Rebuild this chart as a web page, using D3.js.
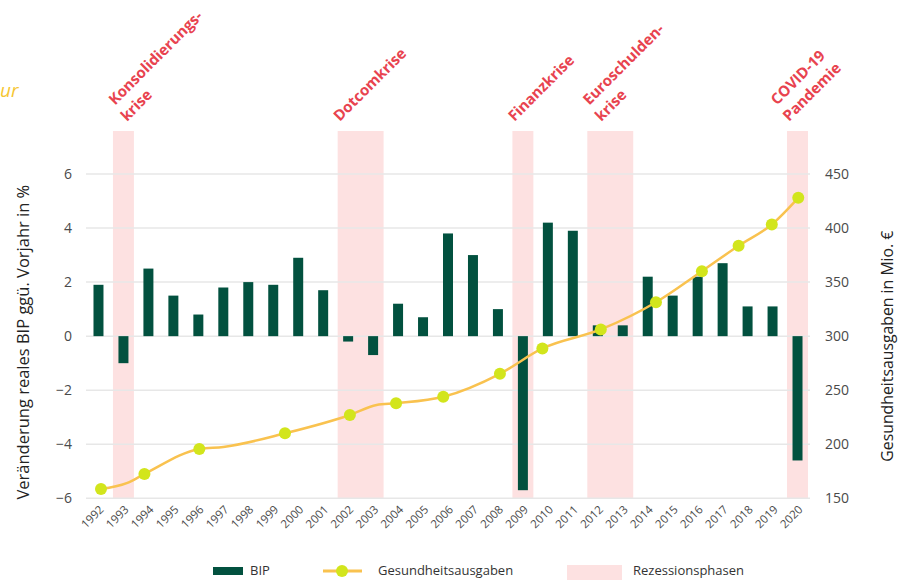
<!DOCTYPE html>
<html><head><meta charset="utf-8">
<script src="https://cdn.jsdelivr.net/npm/d3@7"></script>
<style>
html,body{margin:0;padding:0;background:#fff;}
svg{display:block;font-family:"Open Sans","Noto Sans",sans-serif;}
</style></head>
<body><svg id="c" width="902" height="580"></svg>
<script>
const years = ["1992","1993","1994","1995","1996","1997","1998","1999","2000","2001","2002","2003","2004","2005","2006","2007","2008","2009","2010","2011","2012","2013","2014","2015","2016","2017","2018","2019","2020"];
const bip = [1.9,-1.0,2.5,1.5,0.8,1.8,2.0,1.9,2.9,1.7,-0.2,-0.7,1.2,0.7,3.8,3.0,1.0,-5.7,4.2,3.9,0.4,0.4,2.2,1.5,2.2,2.7,1.1,1.1,-4.6];
// Gesundheitsausgaben: position on the year axis, value in Mio. €, marker shown
const healthPos = [1992.1,1993.13,1993.84,1996.04,1997.0,1999.47,2002.07,2003.14,2003.92,2005.81,2008.08,2009.78,2012.12,2014.33,2016.17,2017.64,2018.97,2020.03];
const healthVal = [158.6,164,172.5,195.6,197.5,210.1,227.1,236.3,237.9,243.9,265.2,288.6,306.2,331.4,360.1,383.6,403.3,428];
const healthMarked = [1,0,1,1,0,1,1,0,1,1,1,1,1,1,1,1,1,1];
const recessionStart = ["1993","2002","2009","2012","2020"];
const recessionEnd   = ["1993","2003","2009","2013","2020"];
const recessionLabels = [["Konsolidierungs-","krise"],["Dotcomkrise"],["Finanzkrise"],["Euroschulden-","krise"],["COVID-19","Pandemie"]];
const leftTicks = [-6,-4,-2,0,2,4,6];
const rightTicks = [150,200,250,300,350,400,450];
const legendLabels = ["BIP","Gesundheitsausgaben","Rezessionsphasen"];

const C = {bar:"#02513f", line:"#f9c24f", dot:"#d2e51c", band:"#fde1e1", red:"#e8434f", grid:"#e7e7e7", tick:"#4a4a4a", title:"#222"};
const svg = d3.select("#c");
const L = 86, R = 810, T = 174, B = 498.3;

const x = d3.scaleBand().domain(years).range([L, R]).paddingInner(0.6).paddingOuter(0.3);
const step = x.step();
const bandX = d => x(d) - x.paddingInner()*step/2; // start of full slot
const yL = d3.scaleLinear().domain([-6, 6]).range([B, T]);
const yR = d3.scaleLinear().domain([150, 450]).range([B, T]);
const xPos = d3.scaleLinear().domain([1992, 2020]).range([x("1992")+x.bandwidth()/2, x("2020")+x.bandwidth()/2]);

// yellow clipped title remnant
svg.append("text").attr("x", 0).attr("y", 97).attr("fill", "#f6c633").attr("font-style","italic")
  .attr("font-size", 19).text("ur");

// recession bands
recessionStart.forEach((s, i) => {
  const x0 = bandX(s) + 2, x1 = bandX(recessionEnd[i]) + step - 2;
  svg.append("rect").attr("x", x0).attr("y", 131).attr("width", x1 - x0).attr("height", B - 131).attr("fill", C.band);
  const lines = recessionLabels[i];
  const indent = (lines.length > 1 && lines[0].endsWith("-")) ? 12 : 0;
  const g = svg.append("g").attr("transform", `translate(${bandX(s) + 4 + indent},122) rotate(-45)`);
  const t = g.append("text").attr("fill", C.red).attr("font-weight", 700).attr("font-size", 15);
  lines.forEach((ln, j) => {
    t.append("tspan").attr("x", j === 0 && lines.length>1 ? 3 : 0).attr("y", (j - (lines.length - 1)) * 20).text(ln);
  });
});

// gridlines
svg.append("g").selectAll("line").data(leftTicks).join("line")
  .attr("x1", L).attr("x2", R).attr("y1", d => yL(d)).attr("y2", d => yL(d))
  .attr("stroke", C.grid).attr("stroke-width", 1.5);

// bars
svg.append("g").selectAll("rect").data(years).join("rect")
  .attr("x", d => x(d)).attr("width", x.bandwidth())
  .attr("y", (d, i) => yL(Math.max(0, bip[i])))
  .attr("height", (d, i) => Math.abs(yL(bip[i]) - yL(0)))
  .attr("fill", C.bar);

// health line
const pts = healthPos.map((p, i) => ({p, v: healthVal[i], m: healthMarked[i]}));
svg.append("path").datum(pts)
  .attr("d", d3.line().x(d => xPos(d.p)).y(d => yR(d.v)).curve(d3.curveMonotoneX))
  .attr("fill", "none").attr("stroke", C.line).attr("stroke-width", 2.5);
svg.append("g").selectAll("circle").data(pts.filter(d => d.m)).join("circle")
  .attr("cx", d => xPos(d.p)).attr("cy", d => yR(d.v)).attr("r", 6).attr("fill", C.dot);

// axes
const axL = svg.append("g").attr("transform", `translate(${L},0)`)
  .call(d3.axisLeft(yL).tickValues(leftTicks).tickSize(0).tickPadding(14));
const axR = svg.append("g").attr("transform", `translate(${R},0)`)
  .call(d3.axisRight(yR).tickValues(rightTicks).tickSize(0).tickPadding(15));
[axL, axR].forEach(a => {
  a.select(".domain").remove();
  a.selectAll("text").attr("font-size", 14).attr("fill", C.tick).attr("font-family", '"Open Sans","Noto Sans",sans-serif');
});
const axB = svg.append("g").attr("transform", `translate(0,${B})`)
  .call(d3.axisBottom(x).tickSize(0).tickPadding(0));
axB.select(".domain").remove();
axB.selectAll("text").attr("font-size", 11.5).attr("fill", C.tick).attr("font-family", '"Open Sans","Noto Sans",sans-serif')
  .attr("text-anchor", "end").attr("dy", null).attr("y", 0)
  .attr("transform", "translate(6,12) rotate(-45)");

// axis titles
svg.append("text").attr("transform", `translate(29,${(T+B)/2 + 6}) rotate(-90)`).attr("text-anchor", "middle")
  .attr("font-size", 16.5).attr("fill", C.title).attr("font-weight", 500).text("Veränderung reales BIP ggü. Vorjahr in %");
svg.append("text").attr("transform", `translate(893,${(T+B)/2 + 10}) rotate(-90)`).attr("text-anchor", "middle")
  .attr("font-size", 15.8).attr("fill", C.title).attr("font-weight", 500).text("Gesundheitsausgaben in Mio. €");

// legend
const lg = svg.append("g").attr("font-size", 13).attr("fill", "#333");
lg.append("rect").attr("x", 213).attr("y", 567).attr("width", 30).attr("height", 8).attr("fill", C.bar);
lg.append("text").attr("x", 250).attr("y", 575).text(legendLabels[0]);
lg.append("line").attr("x1", 323).attr("x2", 362).attr("y1", 571).attr("y2", 571).attr("stroke", C.line).attr("stroke-width", 3);
lg.append("circle").attr("cx", 342).attr("cy", 571).attr("r", 6).attr("fill", C.dot);
lg.append("text").attr("x", 378).attr("y", 575).text(legendLabels[1]);
lg.append("rect").attr("x", 567).attr("y", 565).attr("width", 55).attr("height", 15).attr("fill", C.band);
lg.append("text").attr("x", 633).attr("y", 575).text(legendLabels[2]);
</script></body></html>
